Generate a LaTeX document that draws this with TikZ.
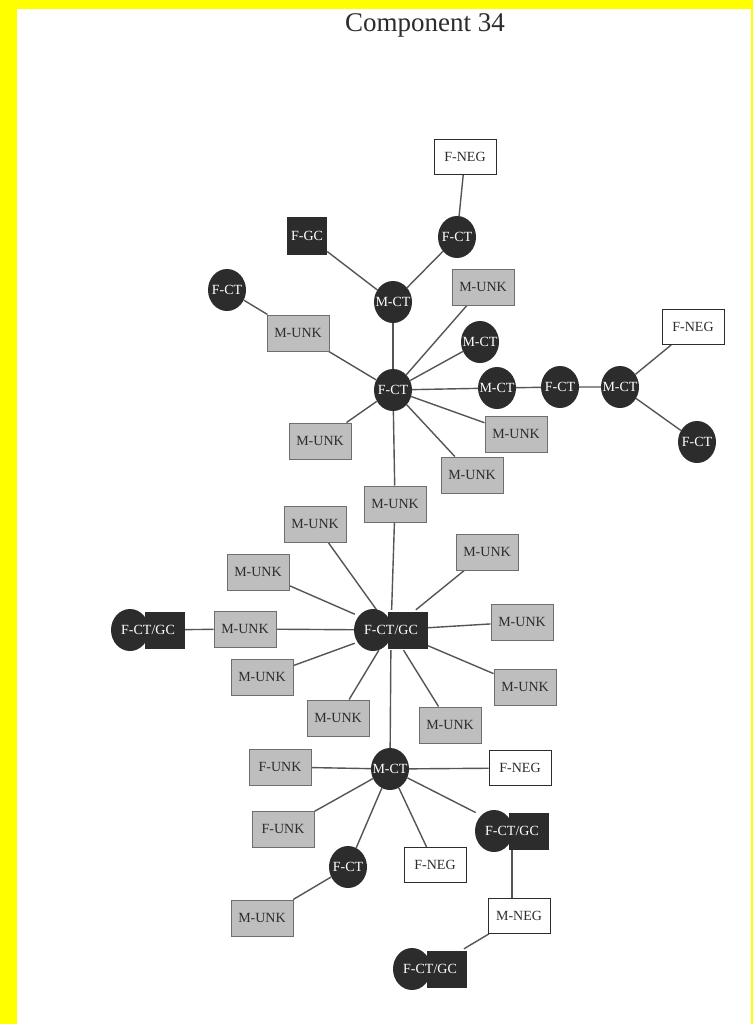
\documentclass[tikz,border=0pt]{standalone}
\usepackage{fontspec}
\setmainfont{Liberation Serif}
\usetikzlibrary{shapes.geometric,backgrounds}

\definecolor{ink}{HTML}{2C2C2C}
\definecolor{unkfill}{HTML}{BEBEBE}
\definecolor{unkline}{HTML}{6E6E6E}
\definecolor{wire}{HTML}{555555}
\definecolor{frame}{HTML}{FFFF00}

% combined F-CT/GC marker: circle + dark box, label node on top
\newcommand{\ctgc}[3]{%
  \begin{scope}[shift={(#2,#3)}]
    \node[ct] (#1-c) at (-18,0) {};
    \node[gcbox] (#1-b) at (17,0) {};
    \node[ctgclbl] (#1) at (0,0) {F-CT/GC};
  \end{scope}}

\begin{document}
\begin{tikzpicture}[x=1pt,y=-1pt,
  lbl/.style={font=\fontsize{14}{14}\selectfont},
  ct/.style={ellipse,fill=ink,inner xsep=-10pt,inner ysep=0pt,minimum width=38,minimum height=42,text=white,lbl},
  gcbox/.style={rectangle,fill=ink,inner sep=0pt,minimum width=40,minimum height=37,text=white,lbl},
  unk/.style={rectangle,fill=unkfill,draw=unkline,line width=1pt,inner sep=0pt,minimum width=62,minimum height=36,text=ink,lbl},
  neg/.style={rectangle,fill=white,draw=ink,line width=1pt,inner sep=0pt,minimum width=62,minimum height=35,text=ink,lbl},
  ctgclbl/.style={rectangle,inner sep=0pt,minimum width=72,minimum height=40,text=white,lbl},
  link/.style={draw=wire,line width=1.4pt}]
\useasboundingbox (0,0) rectangle (753,1024);

\node[font=\fontsize{27}{27}\selectfont,text=ink,anchor=base] (title) at (425,32) {Component 34};

% upper cluster
\node[neg] (fnegA) at (465,157) {F-NEG};
\node[ct] (fctA) at (457,237) {F-CT};
\node[gcbox] (fgc) at (307,236) {F-GC};
\node[ct] (mctA) at (393,302) {M-CT};
\node[ct] (fctB) at (227,290) {F-CT};
\node[unk] (unkA) at (298,333) {M-UNK};
\node[unk] (unkB) at (483,287) {M-UNK};
\node[ct] (mctB) at (480,342) {M-CT};
\node[ct] (fctHub) at (393,390) {F-CT};
\node[ct] (mctC) at (497,388) {M-CT};
\node[ct] (fctC) at (560,387) {F-CT};
\node[ct] (mctD) at (620,387) {M-CT};
\node[neg] (fnegB) at (693,327) {F-NEG};
\node[ct] (fctD) at (697,442) {F-CT};
\node[unk] (unkC) at (320,441) {M-UNK};
\node[unk] (unkD) at (516,434) {M-UNK};
\node[unk] (unkE) at (472,475) {M-UNK};
\node[unk] (unkF) at (395,504) {M-UNK};

% middle cluster
\node[unk] (unkG) at (315,524) {M-UNK};
\node[unk] (unkH) at (487,552) {M-UNK};
\node[unk] (unkI) at (258,572) {M-UNK};
\ctgc{hubGC}{391}{630}
\ctgc{leftGC}{148}{630}
\node[unk] (unkJ) at (245,629) {M-UNK};
\node[unk] (unkK) at (522,622) {M-UNK};
\node[unk] (unkL) at (262,677) {M-UNK};
\node[unk] (unkM) at (525,687) {M-UNK};
\node[unk] (unkN) at (338,718) {M-UNK};
\node[unk] (unkO) at (450,725) {M-UNK};

% lower cluster
\node[ct] (mctHub) at (390,769) {M-CT};
\node[unk] (funkA) at (280,767) {F-UNK};
\node[neg] (fnegC) at (520,768) {F-NEG};
\node[unk] (funkB) at (283,829) {F-UNK};
\ctgc{rightGC}{512}{831}
\node[ct] (fctE) at (348,867) {F-CT};
\node[neg] (fnegD) at (435,865) {F-NEG};
\node[unk] (unkP) at (262,918) {M-UNK};
\node[neg] (mneg) at (519,916) {M-NEG};
\ctgc{bottomGC}{430}{969}

\begin{pgfonlayer}{background}
\fill[frame] (0,0) rectangle (753,1024);
\fill[white] (17,9) rectangle (751,1024);
\path[link] (fnegA) -- (fctA);
\path[link] (fctA) -- (mctA);
\path[link] (fgc) -- (mctA);
\path[link] (mctA) -- (fctHub);
\path[link] (fctB) -- (unkA);
\path[link] (unkA) -- (fctHub);
\path[link] (unkB) -- (fctHub);
\path[link] (mctB) -- (fctHub);
\path[link] (fctHub) -- (mctC) -- (fctC) -- (mctD);
\path[link] (mctD) -- (fnegB);
\path[link] (mctD) -- (fctD);
\path[link] (fctHub) -- (unkC);
\path[link] (fctHub) -- (unkD);
\path[link] (fctHub) -- (unkE);
\path[link] (fctHub) -- (unkF);
\path[link] (unkF) -- (hubGC);
\path[link] (hubGC) -- (unkG);
\path[link] (hubGC) -- (unkH);
\path[link] (hubGC) -- (unkI);
\path[link] (hubGC) -- (unkJ);
\path[link] (unkJ) -- (leftGC);
\path[link] (hubGC) -- (unkK);
\path[link] (hubGC) -- (unkL);
\path[link] (hubGC) -- (unkM);
\path[link] (hubGC) -- (unkN);
\path[link] (hubGC) -- (unkO);
\path[link] (hubGC) -- (mctHub);
\path[link] (mctHub) -- (funkA);
\path[link] (mctHub) -- (fnegC);
\path[link] (mctHub) -- (funkB);
\path[link] (mctHub) -- (rightGC);
\path[link] (mctHub) -- (fctE);
\path[link] (mctHub) -- (fnegD);
\path[link] (fctE) -- (unkP);
\path[link] ([xshift=3pt]rightGC-b.south west) -- ([xshift=3pt]rightGC-b.south west |- mneg.north);
\path[link] (mneg) -- (bottomGC);
\end{pgfonlayer}
\end{tikzpicture}
\end{document}
